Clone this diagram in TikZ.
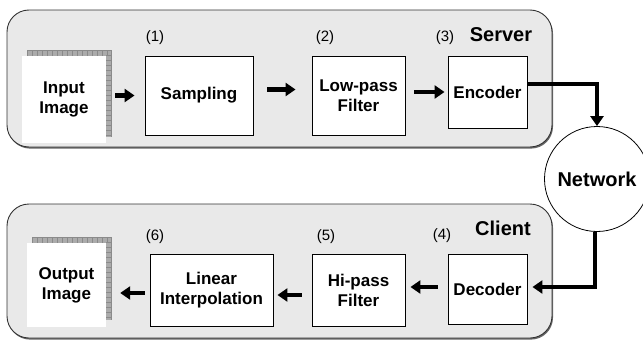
\documentclass[tikz,border=0pt]{standalone}
\usepackage{fontspec}
\setmainfont{Liberation Sans}
\usetikzlibrary{arrows.meta}
\definecolor{panelfill}{HTML}{E9E9E9}
\definecolor{hatchfill}{HTML}{ABABAB}
\definecolor{hatchline}{HTML}{8A8A8A}
\begin{document}
\begin{tikzpicture}[x=1pt,y=-1pt,
  panel/.style={draw=black!80,line width=0.9pt,fill=panelfill,rounded corners=22pt},
  panelshadow/.style={fill=black!60,rounded corners=22pt},
  box/.style={draw=black,line width=0.9pt,fill=white,inner sep=0pt,align=center,
    font=\fontsize{17}{20}\selectfont\bfseries},
  imgbox/.style={fill=white,inner sep=0pt,align=center,
    font=\fontsize{17}{20}\selectfont\bfseries},
  num/.style={inner sep=0pt,font=\fontsize{15}{17}\selectfont},
  title/.style={inner sep=0pt,font=\fontsize{20}{24}\selectfont\bfseries},
  flow/.style={line width=4.3pt,-{Triangle[length=10pt,width=13pt]}},
]
\useasboundingbox (0,0) rectangle (643,340);

% panels
\fill[panelshadow,shift={(1,1.6)}] (7,10) rectangle (552,147);
\draw[panel] (7,10) rectangle (552,147);
\fill[panelshadow,shift={(1,1.6)}] (7,204) rectangle (552,338);
\draw[panel] (7,204) rectangle (552,338);

% hatched frames of images
\fill[hatchfill] (27,50) rectangle (111,56);
\fill[hatchfill] (106,50) rectangle (111,137);
\foreach \x in {27,32,...,107} \draw[hatchline,line width=0.5pt] (\x,50) -- (\x,56);
\foreach \y in {50,55,...,137} \draw[hatchline,line width=0.5pt] (106,\y) -- (111,\y);
\draw[hatchline,line width=0.5pt] (27,50) -- (111,50) (111,50) -- (111,137);

\fill[hatchfill] (32,237) rectangle (111,243);
\fill[hatchfill] (106,237) rectangle (111,320);
\foreach \x in {32,37,...,107} \draw[hatchline,line width=0.5pt] (\x,237) -- (\x,243);
\foreach \y in {237,242,...,320} \draw[hatchline,line width=0.5pt] (106,\y) -- (111,\y);
\draw[hatchline,line width=0.5pt] (32,237) -- (111,237) (111,237) -- (111,320);

% nodes
\node[imgbox,minimum width=84pt,minimum height=87pt] (in) at (64,99.5) {Input\\Image};
\node[box,minimum width=108pt,minimum height=79pt] (samp) at (199,95.5) {Sampling};
\node[box,minimum width=93pt,minimum height=79pt] (lowp) at (358.5,95.5) {Low-pass\\Filter};
\node[box,minimum width=79pt,minimum height=72pt] (enc) at (487.5,92) {Encoder};
\node[draw=black,line width=0.8pt,fill=white,circle,minimum size=105pt,inner sep=0pt,
  font=\fontsize{20}{24}\selectfont\bfseries] (net) at (597,179) {Network};
\node[box,minimum width=79pt,minimum height=70pt] (dec) at (487.5,289) {Decoder};
\node[box,minimum width=93pt,minimum height=72pt] (hip) at (358.5,290) {Hi-pass\\Filter};
\node[box,minimum width=123pt,minimum height=72pt] (lin) at (211.5,290) {Linear\\Interpolation};
\node[imgbox,minimum width=79pt,minimum height=84pt] (out) at (66.5,285) {Output\\Image};

% labels
\node[num] (n1) at (155,38) {(1)};
\node[num] (n2) at (325,38) {(2)};
\node[num] (n3) at (445,38) {(3)};
\node[title] (srv) at (501,35) {Server};
\node[num] (n6) at (155,237) {(6)};
\node[num] (n5) at (326,237) {(5)};
\node[num] (n4) at (442,236) {(4)};
\node[title] (cli) at (503,228) {Client};

% connectors
\draw[flow,shorten <=9pt,shorten >=10pt] (in.east |- samp.west) -- (samp.west);
\draw[flow,shorten <=14pt,shorten >=16pt] ([yshift=6pt]samp.east) -- ([yshift=6pt]lowp.west);
\draw[flow,shorten <=9pt,shorten >=3pt] ([yshift=3.5pt]lowp.east) -- ([yshift=3.5pt]lowp.east -| enc.west);
\draw[flow,line join=miter] ([yshift=8pt]enc.east) -| (net.north);
\draw[flow,line join=miter,shorten >=5pt] ([xshift=-2pt]net.south) |- ([yshift=2pt]dec.east);
\draw[flow,shorten <=10pt,shorten >=5pt] ([yshift=2pt]dec.west) -- ([yshift=2pt]dec.west -| hip.east);
\draw[flow,shorten <=10pt,shorten >=4pt] ([yshift=-5pt]hip.west) -- ([yshift=-5pt]lin.east);
\draw[flow,shorten <=5pt,shorten >=14pt] ([yshift=-3pt]lin.west) -- ([yshift=-3pt]lin.west -| out.east);
\end{tikzpicture}
\end{document}
